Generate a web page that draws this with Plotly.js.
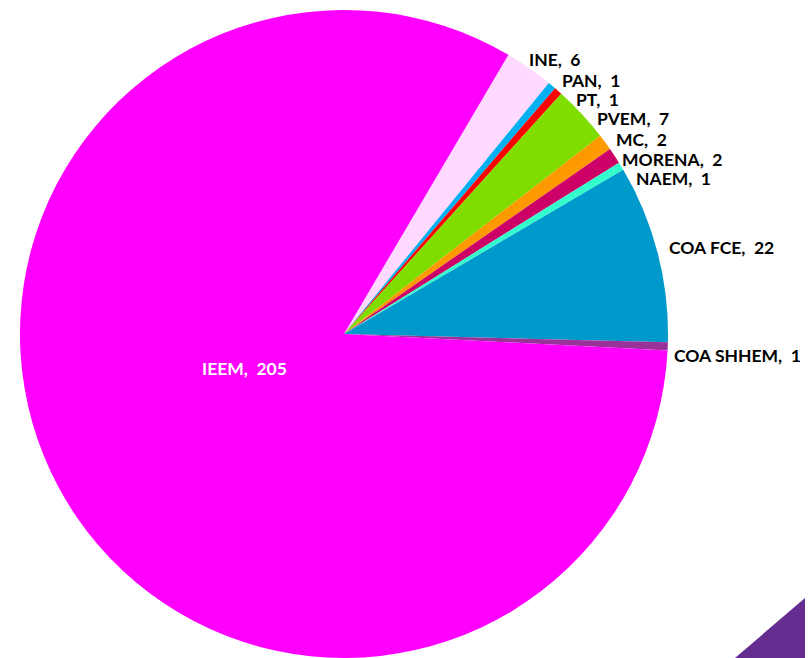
<!DOCTYPE html>
<html>
<head>
<meta charset="utf-8">
<script src="https://cdn.plot.ly/plotly-3.0.1.min.js"></script>
<style>html,body{margin:0;padding:0;background:#fff;}#chart{width:808px;height:658px;}</style>
</head>
<body>
<div id="chart"></div>
<script>
const labels = ["INE", "PAN", "PT", "PVEM", "MC", "MORENA", "NAEM", "COA FCE", "COA SHHEM", "IEEM"];
const values = [6, 1, 1, 7, 2, 2, 1, 22, 1, 205];
const colors = ["#FFD9FF", "#00B0F0", "#FF0000", "#80DD00", "#FF9900", "#CC0066", "#33FFCC", "#0099CC", "#993399", "#FF00FF"];

// label anchor positions in pixels (left edge, vertical middle)
const labelPos = [[527,60],[560,80],[574,100],[595,119],[614,140],[620,159],[634,178],[667,248],[672,355],[200,368]];

const W = 808, H = 658;
const cx = 344, cy = 334, r = 324;

const annotations = labels.map((l, i) => ({
  text: l + ",\u00a0 " + values[i],
  x: labelPos[i][0] / W, y: 1 - labelPos[i][1] / H,
  xref: "paper", yref: "paper",
  xanchor: "left", yanchor: "middle",
  showarrow: false,
  font: {family: "Lato, 'Open Sans', sans-serif", size: 17.5, color: l === "IEEM" ? "#FFFFFF" : "#000000", weight: "bold"}
}));

const trace = {
  type: "pie",
  labels: labels,
  values: values,
  sort: false,
  direction: "clockwise",
  rotation: 30.5,
  marker: {colors: colors, line: {width: 0}},
  textinfo: "none",
  hoverinfo: "label+value",
  domain: {x: [(cx - r) / W, (cx + r) / W], y: [1 - (cy + r) / H, 1 - (cy - r) / H]}
};

const layout = {
  width: W, height: H,
  margin: {l: 0, r: 0, t: 0, b: 0},
  paper_bgcolor: "#FFFFFF",
  showlegend: false,
  annotations: annotations,
  shapes: [{
    type: "path", xref: "paper", yref: "paper",
    path: "M " + (735/W) + " 0 L " + (805/W) + " " + (60/H) + " L " + (805/W) + " 0 Z",
    fillcolor: "#662D91", line: {width: 0}
  }]
};

Plotly.newPlot("chart", [trace], layout, {displayModeBar: false, staticPlot: true});
</script>
</body>
</html>
